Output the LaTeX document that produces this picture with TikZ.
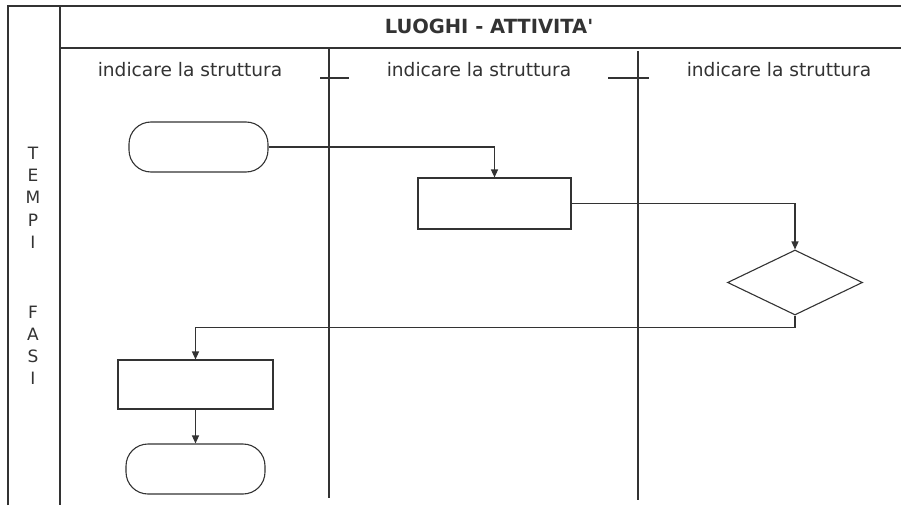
\documentclass[tikz,border=0pt]{standalone}
\usepackage{fontspec}
\setmainfont{DejaVu Sans}[Ligatures=TeXOff]
\usetikzlibrary{shapes.geometric,arrows.meta}
\definecolor{ink}{HTML}{333333}
\tikzset{
  frame/.style={draw=ink, line width=1.1pt},
  term/.style={draw=ink, line width=1.1pt, rectangle, rounded corners=22pt, inner sep=0pt},
  procbox/.style={draw=ink, line width=1.1pt, rectangle, inner sep=0pt},
  decbox/.style={draw=ink, line width=1.1pt, diamond, inner sep=0pt},
  flow/.style={draw=ink, line width=1.3pt, -{Triangle[length=8pt,width=7pt]}},
  collabel/.style={text=ink, font=\fontsize{18.6}{20}\selectfont, anchor=base, inner sep=0pt},
  headlabel/.style={text=ink, font=\bfseries\fontsize{19.5}{21}\selectfont, inner sep=0pt},
  sidelabel/.style={text=ink, font=\fontsize{17}{18}\selectfont, inner sep=0pt}
}
\begin{document}
\begin{tikzpicture}[x=1pt,y=-1pt]
\useasboundingbox[fill=white] (0,0) rectangle (901,508);
% frame
\draw[frame] (8,505) -- (8,6) -- (901,6);
\draw[frame] (60,6) -- (60,505);
\draw[frame] (60,48) -- (901,48);
\draw[frame] (329,48) -- (329,498);
\draw[frame] (638,51) -- (638,500);
\draw[frame] (320,78) -- (349,78);
\draw[frame] (608,78) -- (649,78);
% header
\node[headlabel] (head) at (489,26) {LUOGHI - ATTIVITA'};
\node[collabel] (c1) at (190,77) {indicare la struttura};
\node[collabel] (c2) at (479,77) {indicare la struttura};
\node[collabel] (c3) at (779,77) {indicare la struttura};
% side letters
\foreach \ch/\yy [count=\i] in {T/153,E/175,M/197,P/220,I/242,F/312,A/334,S/356,I/378}
  \node[sidelabel] (s\i) at (33,\yy) {\ch};
% shapes
\node[term, minimum width=139pt, minimum height=50pt] (t1) at (198.5,147) {};
\node[procbox, minimum width=153pt, minimum height=51pt] (r2) at (494.5,203.5) {};
\node[decbox, minimum width=135pt, minimum height=65pt] (d) at (795,282.5) {};
\node[procbox, minimum width=155pt, minimum height=49pt] (r3) at (195.5,384.5) {};
\node[term, minimum width=139pt, minimum height=50pt] (t2) at (195.5,469) {};
% connectors
\draw[flow] (t1.east) -| (r2.north);
\draw[flow] (r2.east) -| (d.north);
\draw[flow] (d.south) -- ++(0,12) -| (r3.north);
\draw[flow] (r3.south) -- (t2.north);
\end{tikzpicture}
\end{document}
